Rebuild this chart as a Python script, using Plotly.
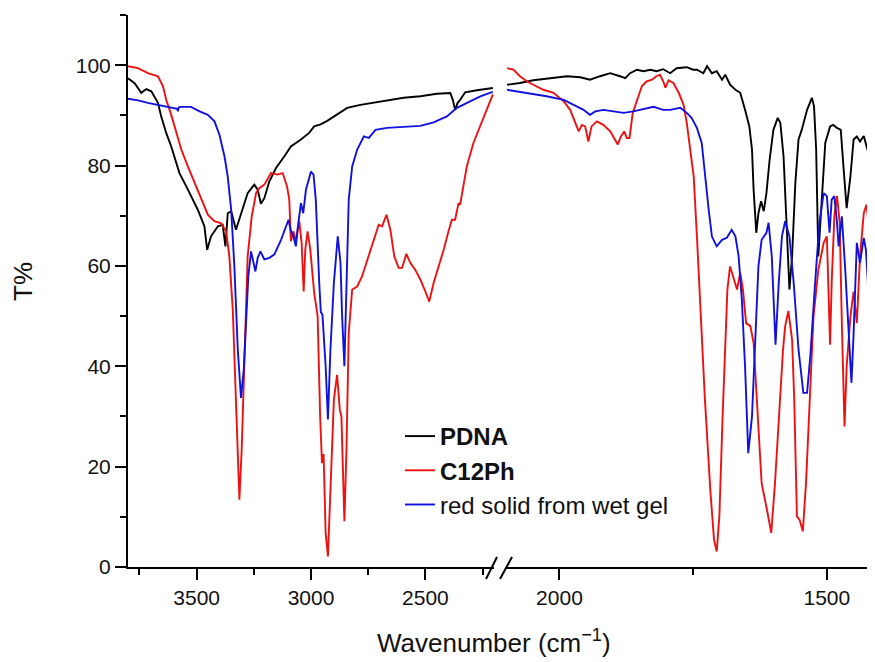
import plotly.graph_objects as go

# ---------------- data ----------------
# high-wavenumber segment (3800 -> 2200 cm-1)
pdna_wn_hi = [3800, 3771, 3742, 3720, 3698, 3669, 3655, 3633, 3611, 3575, 3538, 3495, 3466, 3454,
              3437, 3407, 3386, 3374, 3364, 3349, 3328, 3306, 3277, 3248, 3233, 3219, 3204, 3182,
              3153, 3117, 3088, 3044, 3008, 2986, 2958, 2929, 2886, 2842, 2784, 2726, 2668, 2595,
              2522, 2450, 2391, 2380, 2370, 2359, 2348, 2326, 2275, 2205]
pdna_t_hi = [97.4, 96.4, 94.5, 95.25, 94.8, 92.5, 89.8, 86.5, 83.8, 78.5, 75.2, 71.2, 67.9, 63.2,
             65.9, 67.9, 68.2, 63.9, 70.5, 70.9, 67.2, 70.5, 74.5, 76.2, 75.2, 72.4, 73.5, 76.85,
             79.5, 81.8, 83.8, 85.2, 86.5, 87.8, 88.2, 88.9, 90.1, 91.5, 92.1, 92.5, 93.0, 93.5,
             93.8, 94.3, 94.45, 93.1, 91.1, 92.5, 93.1, 94.6, 95.0, 95.45]

c12_wn_hi = [3800, 3756, 3713, 3669, 3647, 3633, 3611, 3589, 3567, 3538, 3509, 3480, 3451, 3422,
             3393, 3371, 3357, 3342, 3332, 3323, 3313, 3303, 3291, 3277, 3259, 3240, 3226, 3204,
             3175, 3146, 3124, 3105, 3095, 3088, 3077, 3066, 3051, 3041, 3032, 3025, 3015, 3003,
             2986, 2971, 2960, 2952, 2945, 2936, 2926, 2915, 2900, 2886, 2874, 2867, 2859, 2854,
             2845, 2835, 2820, 2798, 2777, 2747, 2718, 2704, 2689, 2670, 2653, 2636, 2617, 2602,
             2583, 2566, 2544, 2522, 2500, 2483, 2464, 2442, 2420, 2399, 2384, 2370, 2355, 2348,
             2319, 2290, 2261, 2232, 2205]
c12_t_hi = [99.8, 99.4, 98.4, 97.8, 95.8, 93.1, 90.1, 86.5, 83.2, 79.8, 76.5, 73.2, 70.2, 68.9,
            68.5, 66.9, 61.9, 51.3, 36.7, 23.4, 13.4, 23.4, 43.3, 61.9, 69.9, 74.5, 75.5, 76.2,
            78.5, 78.2, 78.5, 75.9, 73.2, 64.9, 66.9, 64.9, 68.9, 64.6, 54.9, 63.2, 66.9, 63.2,
            54.6, 50.0, 30.0, 20.7, 22.5, 6.8, 2.1, 16.7, 33.3, 38.3, 31.3, 30.0, 16.7, 9.1,
            23.4, 46.6, 55.3, 55.9, 57.9, 62.2, 65.9, 68.2, 67.9, 70.2, 67.2, 61.9, 59.6, 59.6,
            62.4, 60.6, 59.2, 57.3, 54.9, 52.9, 56.6, 59.9, 63.2, 66.9, 69.2, 69.2, 72.5, 72.2,
            79.8, 84.5, 87.8, 91.1, 94.2]

gel_wn_hi = [3800, 3756, 3713, 3669, 3626, 3585, 3582, 3578, 3567, 3524, 3487, 3451, 3422, 3400,
             3378, 3364, 3349, 3335, 3320, 3306, 3294, 3284, 3274, 3262, 3250, 3243, 3233, 3221,
             3204, 3182, 3160, 3131, 3109, 3098, 3088, 3077, 3066, 3059, 3044, 3034, 3022, 3000,
             2989, 2979, 2964, 2957, 2950, 2936, 2926, 2915, 2900, 2883, 2871, 2864, 2854, 2845,
             2835, 2820, 2798, 2769, 2747, 2718, 2668, 2595, 2522, 2464, 2406, 2362, 2319, 2260,
             2205]
gel_t_hi = [93.3, 93.0, 92.5, 92.1, 91.8, 91.3, 90.8, 91.6, 91.7, 91.7, 90.8, 90.1, 88.8, 86.1,
            81.8, 77.8, 71.2, 59.9, 43.3, 33.7, 39.3, 50.0, 57.9, 62.9, 60.6, 58.9, 61.6, 62.9,
            61.3, 61.6, 62.3, 65.2, 67.9, 69.2, 66.9, 65.9, 63.9, 67.2, 72.5, 70.5, 75.2, 78.8,
            78.2, 73.2, 56.6, 50.8, 50.3, 40.0, 29.4, 43.3, 56.6, 65.9, 60.6, 50.0, 40.0, 56.6,
            73.2, 79.8, 83.2, 85.8, 85.5, 87.1, 87.5, 87.7, 87.9, 88.6, 89.8, 91.5, 92.5, 93.8,
            94.7]

# low-wavenumber segment (2100 -> 1410 cm-1)
pdna_wn_lo = [2098, 2074, 2049, 2017, 1986, 1961, 1943, 1924, 1905, 1887, 1877, 1868, 1855, 1843,
              1830, 1818, 1806, 1793, 1781, 1762, 1750, 1743, 1731, 1724, 1715, 1706, 1696, 1690,
              1681, 1671, 1662, 1653, 1645, 1640, 1637, 1632, 1628, 1623, 1618, 1613, 1607, 1600,
              1592, 1587, 1581, 1576, 1570, 1565, 1559, 1553, 1547, 1537, 1528, 1524, 1520, 1516,
              1509, 1503, 1494, 1488, 1481, 1474, 1469, 1463, 1456, 1450, 1444, 1438, 1431, 1425,
              1419, 1414, 1410]
pdna_t_lo = [96.1, 96.45, 97.0, 97.4, 97.8, 97.6, 97.1, 97.8, 98.4, 97.8, 97.4, 98.4, 99.1, 98.8,
             99.1, 98.8, 99.2, 98.4, 99.4, 99.6, 99.1, 99.1, 98.4, 99.8, 98.4, 98.8, 97.1, 98.1,
             96.1, 95.1, 94.5, 91.1, 87.8, 83.2, 75.2, 66.6, 70.5, 72.9, 70.9, 74.5, 81.2, 87.1,
             89.5, 88.5, 81.8, 69.9, 55.3, 61.9, 76.5, 85.2, 87.1, 91.1, 93.5, 91.8, 83.2, 61.9,
             75.2, 84.5, 87.8, 88.1, 87.5, 87.1, 79.8, 71.5, 77.8, 85.2, 85.8, 84.8, 85.9, 83.8,
             81.2, 83.2, 82.5]

c12_wn_lo = [2098, 2086, 2074, 2061, 2049, 2030, 2011, 1992, 1980, 1971, 1964, 1958, 1952, 1946,
             1940, 1930, 1918, 1905, 1896, 1891, 1885, 1879, 1874, 1869, 1863, 1855, 1846, 1837,
             1827, 1819, 1812, 1806, 1802, 1796, 1787, 1777, 1768, 1762, 1756, 1749, 1743, 1737,
             1728, 1718, 1711, 1706, 1701, 1695, 1690, 1686, 1681, 1675, 1668, 1662, 1657, 1651,
             1643, 1637, 1631, 1622, 1612, 1604, 1597, 1590, 1582, 1578, 1572, 1565, 1561, 1556,
             1551, 1545, 1539, 1532, 1525, 1516, 1506, 1500, 1497, 1494, 1491, 1486, 1481, 1476,
             1472, 1467, 1463, 1456, 1450, 1444, 1438, 1431, 1426, 1419, 1410]
c12_t_lo = [99.4, 99.1, 97.8, 96.8, 96.1, 95.1, 94.5, 92.8, 91.1, 88.8, 86.8, 88.1, 87.8, 84.8,
            87.8, 88.8, 88.1, 86.8, 85.2, 84.2, 85.8, 86.8, 85.5, 85.5, 90.5, 93.1, 95.8, 96.8,
            97.1, 97.8, 98.1, 96.8, 95.5, 97.0, 96.45, 94.5, 92.1, 88.5, 84.0, 77.8, 65.9, 52.6,
            33.3, 15.4, 5.4, 3.1, 10.1, 30.0, 46.6, 55.3, 59.9, 57.9, 55.3, 58.6, 55.3, 48.6,
            48.0, 44.6, 33.3, 16.7, 11.4, 6.8, 16.7, 30.0, 43.3, 48.0, 51.0, 45.3, 33.3, 10.1,
            9.4, 7.1, 16.7, 33.3, 49.9, 59.2, 64.6, 65.9, 56.6, 44.3, 56.6, 69.9, 73.9, 68.6,
            48.6, 28.0, 40.0, 49.9, 54.9, 48.6, 61.9, 70.5, 72.2, 65.9, 64.2]

gel_wn_lo = [2098, 2061, 2024, 1992, 1974, 1955, 1943, 1933, 1918, 1899, 1880, 1862, 1843, 1824,
             1806, 1793, 1774, 1762, 1753, 1743, 1734, 1728, 1721, 1715, 1706, 1696, 1687, 1678,
             1671, 1665, 1659, 1653, 1647, 1640, 1634, 1628, 1622, 1613, 1609, 1603, 1596, 1590,
             1584, 1578, 1570, 1562, 1553, 1544, 1537, 1531, 1522, 1514, 1506, 1500, 1495, 1491,
             1486, 1481, 1478, 1472, 1466, 1459, 1454, 1450, 1444, 1438, 1431, 1427, 1422, 1416,
             1410]
gel_t_lo = [95.1, 94.5, 93.8, 93.1, 92.1, 91.1, 90.1, 90.8, 91.1, 90.8, 90.5, 90.8, 91.3, 91.7,
            91.1, 91.1, 91.5, 90.5, 89.5, 87.5, 84.5, 77.85, 71.2, 65.9, 63.9, 65.2, 65.6, 67.2,
            65.9, 61.9, 53.3, 40.0, 22.7, 30.0, 46.6, 59.9, 65.2, 66.6, 68.6, 61.9, 44.3, 56.6,
            65.9, 68.9, 65.9, 56.6, 43.3, 34.7, 34.7, 42.0, 56.6, 68.6, 74.5, 73.9, 66.6, 73.2,
            73.9, 68.6, 63.9, 69.9, 59.9, 46.6, 36.7, 46.6, 64.6, 60.6, 65.6, 63.2, 55.3, 44.0,
            53.3]

series_names = ["<b>PDNA</b>", "<b>C12Ph</b>", "red solid from wet gel"]
series_colors = ["#000000", "#ee1111", "#1111dd"]

x_tick_hi = [3500, 3000, 2500]
x_tick_lo = [2000, 1500]
y_ticks = [0, 20, 40, 60, 80, 100]

# ---------------- figure ----------------
FONT = "Arial, Liberation Sans, Helvetica, sans-serif"
fig = go.Figure()

hi = [(pdna_wn_hi, pdna_t_hi), (c12_wn_hi, c12_t_hi), (gel_wn_hi, gel_t_hi)]
lo = [(pdna_wn_lo, pdna_t_lo), (c12_wn_lo, c12_t_lo), (gel_wn_lo, gel_t_lo)]

for i, name in enumerate(series_names):
    fig.add_trace(go.Scatter(x=hi[i][0], y=hi[i][1], mode="lines", name=name,
                             legendgroup=f"g{i}", line=dict(color=series_colors[i], width=1.9),
                             xaxis="x", yaxis="y"))
for i, name in enumerate(series_names):
    fig.add_trace(go.Scatter(x=lo[i][0], y=lo[i][1], mode="lines", name=name,
                             legendgroup=f"g{i}", showlegend=False,
                             line=dict(color=series_colors[i], width=1.9),
                             xaxis="x2", yaxis="y"))

# the page puts the figure 8 px in from the top-left corner
OFF = 8
W, H = 875 - OFF, 662 - OFF
PLOT_L, PLOT_R, PLOT_T, PLOT_B = 128, 875, 15, 567   # page pixels of the plot area
ML, MR, MT = PLOT_L - OFF, 875 - PLOT_R, PLOT_T - OFF
MB = H - (PLOT_B - OFF)
PW = PLOT_R - PLOT_L
PH = PLOT_B - PLOT_T


def px_x(p):
    return (p - PLOT_L) / PW


def px_y(p):
    return (PLOT_B - p) / PH


axis_common = dict(showline=True, linecolor="black", linewidth=2, ticks="outside",
                   ticklen=11, tickwidth=2, tickcolor="black", showgrid=False, zeroline=False,
                   automargin=False,
                   tickfont=dict(family=FONT, size=21, color="#111"))

fig.update_layout(
    width=W, height=H,
    margin=dict(l=ML, r=MR, t=MT, b=MB, autoexpand=False),
    plot_bgcolor="white", paper_bgcolor="white",
    showlegend=True,
    xaxis=dict(domain=[0, px_x(494)], range=[3800, 2200], tickmode="array", tickvals=x_tick_hi,
               minor=dict(tickvals=[3750, 3250, 2750, 2250], ticklen=6, tickwidth=2,
                          tickcolor="black", ticks="outside"),
               anchor="y", **axis_common),
    xaxis2=dict(domain=[px_x(506), 1], range=[2100, 1410], tickmode="array", tickvals=x_tick_lo,
                minor=dict(tickvals=[1750], ticklen=6, tickwidth=2, tickcolor="black",
                           ticks="outside"),
                anchor="y", **axis_common),
    yaxis=dict(range=[0, 110], tickmode="array", tickvals=y_ticks,
               minor=dict(tickvals=[10, 30, 50, 70, 90, 110], ticklen=6, tickwidth=2,
                          tickcolor="black", ticks="outside"),
               anchor="x", **axis_common),
    legend=dict(x=px_x(400), y=px_y(414), xanchor="left", yanchor="top",
                bgcolor="rgba(0,0,0,0)", borderwidth=0, tracegroupgap=0,
                font=dict(family=FONT, size=24, color="#111")),
    annotations=[
        dict(text="Wavenumber (cm<sup>\u22121</sup>)", x=px_x(494), y=px_y(641),
             xref="paper", yref="paper", showarrow=False, xanchor="center",
             yanchor="middle", font=dict(family=FONT, size=26, color="#111")),
        dict(text="T%", x=px_x(23), y=px_y(282), textangle=-90,
             xref="paper", yref="paper", showarrow=False, xanchor="center",
             yanchor="middle", font=dict(family=FONT, size=26, color="#111")),
    ],
    shapes=[
        dict(type="line", xref="paper", yref="paper", x0=px_x(486), y0=px_y(579),
             x1=px_x(497), y1=px_y(557), line=dict(color="black", width=2), layer="above"),
        dict(type="line", xref="paper", yref="paper", x0=px_x(500), y0=px_y(579),
             x1=px_x(512), y1=px_y(557), line=dict(color="black", width=2), layer="above"),
    ],
)

fig.write_html("out.html")
